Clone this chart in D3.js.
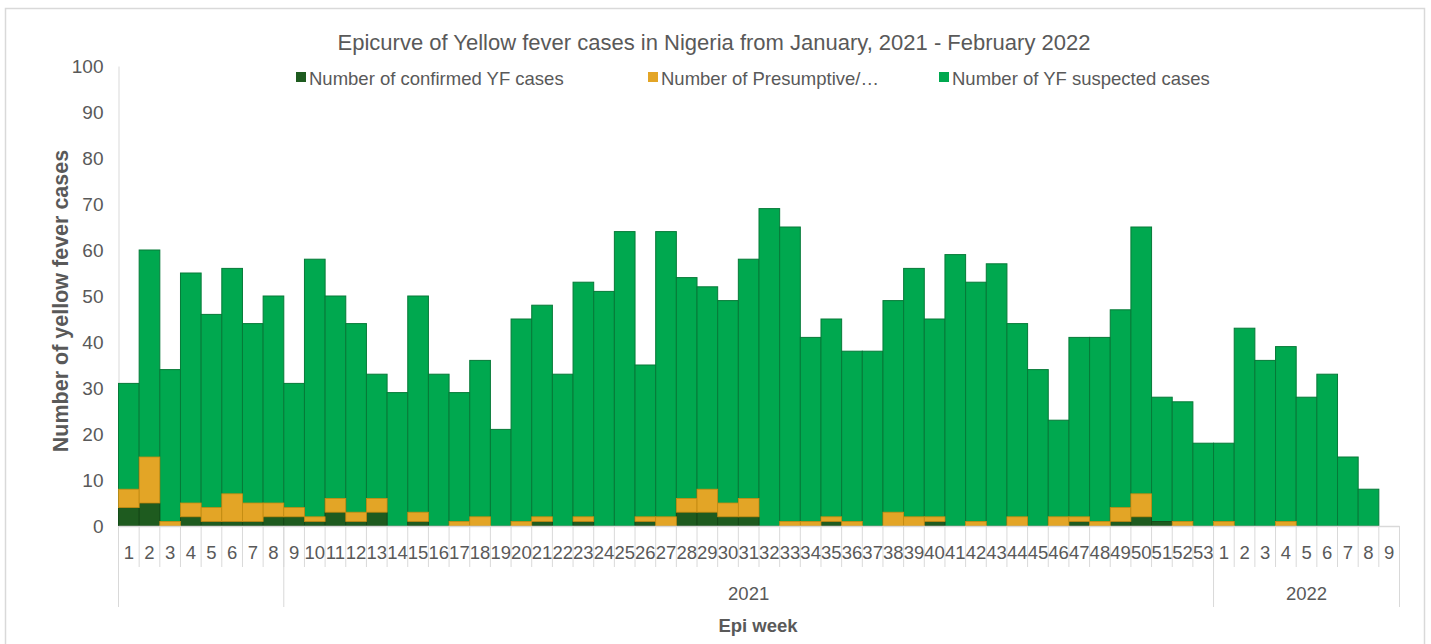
<!DOCTYPE html>
<html>
<head>
<meta charset="utf-8">
<script src="https://cdn.jsdelivr.net/npm/d3@7"></script>
<style>
  html, body { margin: 0; padding: 0; background: #fff; }
  svg { display: block; font-family: "Liberation Sans", Arial, sans-serif; }
</style>
</head>
<body>
<svg id="chart" width="1431" height="644"></svg>
<script>
// ---- Data ----
const weekLabels = [1,2,3,4,5,6,7,8,9,10,11,12,13,14,15,16,17,18,19,20,21,22,23,24,25,26,27,28,29,30,31,32,33,34,35,36,37,38,39,40,41,42,43,44,45,46,47,48,49,50,51,52,53,
                    1,2,3,4,5,6,7,8,9];
const yearGroups = [
  { label: "", start: 0, end: 8 },
  { label: "2021", start: 8, end: 53 },
  { label: "2022", start: 53, end: 62 }
];
const confirmed = [4,5,0,2,1,1,1,2,2,1,3,1,3,0,1,0,0,0,0,0,1,0,1,0,0,1,0,3,3,2,2,0,0,0,1,0,0,0,0,1,0,0,0,0,0,0,1,0,1,2,1,0,0,
                   0,0,0,0,0,0,0,0,0];
const presumptive = [4,10,1,3,3,6,4,3,2,1,3,2,3,0,2,0,1,2,0,1,1,0,1,0,0,1,2,3,5,3,4,0,1,1,1,1,0,3,2,1,0,1,0,2,0,2,1,1,3,5,0,1,0,
                     1,0,0,1,0,0,0,0,0];
const suspected = [31,60,34,55,46,56,44,50,31,58,50,44,33,29,50,33,29,36,21,45,48,33,53,51,64,35,64,54,52,49,58,69,65,41,45,38,38,49,56,45,59,53,57,44,34,23,41,41,47,65,28,27,18,
                   18,43,36,39,28,33,15,8,0];
const yTicks = [0,10,20,30,40,50,60,70,80,90,100];
const seriesNames = ["Number of confirmed YF cases", "Number of Presumptive/\u2026", "Number of YF suspected cases"];

// ---- Setup ----
const svg = d3.select("#chart");
const textColor = "#595959";
const colors = { confirmed: "#1e5b1f", presumptive: "#e3a526", suspected: "#00a84f" };
const strokes = { confirmed: "#154515", presumptive: "#c48a12", suspected: "#067a38" };

const plotLeft = 118.5, plotRight = 1399.5, plotTop = 66, plotBottom = 526;
const idx = d3.range(weekLabels.length);
const x = d3.scaleBand().domain(idx).range([plotLeft, plotRight]).padding(0);
const y = d3.scaleLinear().domain([0, 100]).range([plotBottom, plotTop]);

// chart border
svg.append("rect").attr("x", 5.5).attr("y", 8.5).attr("width", 1419).attr("height", 660)
  .attr("fill", "none").attr("stroke", "#d9d9d9").attr("stroke-width", 1.5);

// title
svg.append("text").attr("x", 714).attr("y", 50).attr("text-anchor", "middle")
  .attr("font-size", 22).attr("fill", textColor)
  .text("Epicurve of Yellow fever cases in Nigeria from January, 2021 - February 2022");

// legend
const legendItems = [
  { name: seriesNames[0], color: colors.confirmed, x: 296 },
  { name: seriesNames[1], color: colors.presumptive, x: 648 },
  { name: seriesNames[2], color: colors.suspected, x: 939 }
];
const lg = svg.append("g");
legendItems.forEach(it => {
  lg.append("rect").attr("x", it.x).attr("y", 72).attr("width", 10).attr("height", 10).attr("fill", it.color);
  lg.append("text").attr("x", it.x + 13).attr("y", 84.5).attr("font-size", 18.5).attr("fill", textColor).text(it.name);
});

// y axis
const yAxis = d3.axisLeft(y).tickValues(yTicks).tickSize(0).tickPadding(15);
const yg = svg.append("g").attr("transform", `translate(${plotLeft},0)`).call(yAxis);
yg.select(".domain").attr("stroke", "#d9d9d9").attr("stroke-width", 1);
yg.selectAll("text").attr("font-size", 19).attr("fill", textColor).attr("font-family", "Liberation Sans, Arial, sans-serif");

// y label
svg.append("text").attr("transform", `translate(68,${(plotTop + plotBottom) / 2 + 5}) rotate(-90)`)
  .attr("text-anchor", "middle").attr("font-size", 21.5).attr("font-weight", "bold").attr("fill", textColor)
  .text("Number of yellow fever cases");

// bars: suspected (full height) behind, then stacked confirmed + presumptive
const rows = idx.map(i => ({ i, confirmed: confirmed[i], presumptive: presumptive[i], suspected: suspected[i] }));
const bars = svg.append("g");
bars.selectAll("rect.sus").data(rows).join("rect").attr("class", "sus")
  .attr("x", d => x(d.i)).attr("width", x.bandwidth())
  .attr("y", d => y(d.suspected)).attr("height", d => y(0) - y(d.suspected))
  .attr("fill", colors.suspected).attr("stroke", strokes.suspected).attr("stroke-width", 1)
  .style("display", d => d.suspected > 0 ? null : "none");

const stack = d3.stack().keys(["confirmed", "presumptive"]);
const layers = stack(rows);
bars.selectAll("g.layer").data(layers).join("g").attr("class", "layer")
  .attr("fill", d => colors[d.key]).attr("stroke", d => strokes[d.key]).attr("stroke-width", 0.8)
  .selectAll("rect").data(d => d.filter(s => s[1] - s[0] > 0)).join("rect")
  .attr("x", s => x(s.data.i)).attr("width", x.bandwidth())
  .attr("y", s => y(s[1])).attr("height", s => y(s[0]) - y(s[1]));

// x axis line
svg.append("line").attr("x1", plotLeft).attr("x2", plotRight).attr("y1", plotBottom + 0.5).attr("y2", plotBottom + 0.5)
  .attr("stroke", "#d9d9d9").attr("stroke-width", 1.5);

// category tick lines
const tickG = svg.append("g").attr("stroke", "#d9d9d9").attr("stroke-width", 1);
const edges = d3.range(weekLabels.length + 1);
tickG.selectAll("line.t").data(edges).join("line").attr("class", "t")
  .attr("x1", e => plotLeft + e * x.step()).attr("x2", e => plotLeft + e * x.step())
  .attr("y1", plotBottom).attr("y2", 567);
// group separators
const groupEdges = [yearGroups[0].start].concat(yearGroups.map(g => g.end));
tickG.selectAll("line.g").data(groupEdges).join("line").attr("class", "g")
  .attr("x1", e => plotLeft + e * x.step()).attr("x2", e => plotLeft + e * x.step())
  .attr("y1", plotBottom).attr("y2", 607);

// week labels
svg.append("g").selectAll("text").data(idx).join("text")
  .attr("x", i => x(i) + x.bandwidth() / 2).attr("y", 559)
  .attr("text-anchor", "middle").attr("font-size", 18.5).attr("fill", textColor)
  .text(i => weekLabels[i]);

// year labels
svg.append("g").selectAll("text").data(yearGroups).join("text")
  .attr("x", g => plotLeft + (g.start + g.end) / 2 * x.step()).attr("y", 600)
  .attr("text-anchor", "middle").attr("font-size", 18.5).attr("fill", textColor)
  .text(g => g.label);

// x label
svg.append("text").attr("x", 758).attr("y", 632).attr("text-anchor", "middle")
  .attr("font-size", 18.5).attr("font-weight", "bold").attr("fill", textColor).text("Epi week");
</script>
</body>
</html>
